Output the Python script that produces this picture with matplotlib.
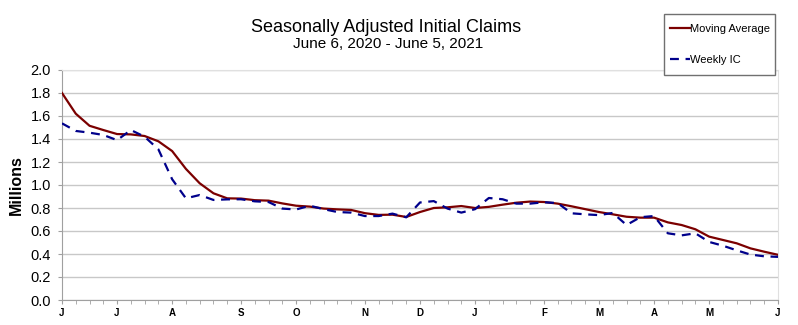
"""
Seasonally adjusted initial claims, weekly vs 4-week moving average.
"""

import numpy as np
import matplotlib
matplotlib.use("Agg")
import matplotlib.pyplot as plt
from matplotlib.patches import Rectangle

# weeks since June 6, 2020 (53 weekly observations)
weeks = np.arange(53)

moving_avg = [
    1.80, 1.62, 1.515, 1.478, 1.443, 1.44, 1.426, 1.38, 1.295, 1.14,
    1.015, 0.928, 0.884, 0.882, 0.868, 0.864, 0.84, 0.82, 0.812, 0.795,
    0.788, 0.783, 0.755, 0.74, 0.742, 0.722, 0.765, 0.80, 0.806, 0.817,
    0.80, 0.81, 0.829, 0.846, 0.856, 0.852, 0.838, 0.815, 0.79, 0.765,
    0.745, 0.724, 0.716, 0.716, 0.675, 0.652, 0.615, 0.551, 0.522, 0.493,
    0.449, 0.42, 0.393,
]

weekly_ic = [
    1.536, 1.47, 1.455, 1.435, 1.39, 1.478, 1.42, 1.31, 1.05, 0.884,
    0.913, 0.87, 0.875, 0.876, 0.858, 0.852, 0.795, 0.787, 0.82, 0.79,
    0.765, 0.76, 0.73, 0.73, 0.751, 0.719, 0.848, 0.86, 0.795, 0.76,
    0.79, 0.887, 0.876, 0.838, 0.838, 0.85, 0.843, 0.754, 0.745, 0.738,
    0.757, 0.652, 0.72, 0.73, 0.58, 0.562, 0.58, 0.505, 0.472, 0.432,
    0.395, 0.38, 0.375,
]

# month letters and the week index where each month starts
month_labels = ["J", "J", "A", "S", "O", "N", "D", "J", "F", "M", "A", "M", "J"]
month_weeks = [0, 4, 8, 13, 17, 22, 26, 30, 35, 39, 43, 47, 52]

y_ticks = [0.0, 0.2, 0.4, 0.6, 0.8, 1.0, 1.2, 1.4, 1.6, 1.8, 2.0]

W, H = 798, 325


def main():
    plt.rcParams["font.family"] = ["Liberation Sans", "DejaVu Sans"]

    fig = plt.figure(figsize=(W / 100, H / 100), dpi=100)
    ax = fig.add_axes([62 / W, 25 / H, 716 / W, 230 / H])

    ax.plot(weeks, moving_avg, color="#7b0000", linewidth=1.6,
            label="Moving Average", zorder=3)
    ax.plot(weeks, weekly_ic, color="#00008b", linewidth=1.6,
            linestyle=(0, (4, 3)), label="Weekly IC", zorder=3)

    ax.set_xlim(0, 52)
    ax.set_ylim(0, 2.0)
    ax.set_yticks(y_ticks)
    ax.set_yticklabels([f"{v:.1f}" for v in y_ticks], fontsize=10.5)
    ax.set_xticks(weeks, minor=True)
    ax.set_xticks(month_weeks)
    ax.set_xticklabels(month_labels, fontsize=7, fontweight="bold")
    ax.tick_params(axis="x", which="both", length=3, color="#a0a0a0", pad=3)
    ax.tick_params(axis="y", length=3, color="#a0a0a0", pad=5)

    ax.grid(axis="y", color="#c8c8c8", linewidth=1)
    ax.set_axisbelow(True)
    for side in ["top", "right"]:
        ax.spines[side].set_color("#e0e0e0")
    for side in ["left", "bottom"]:
        ax.spines[side].set_color("#a0a0a0")

    ax.set_ylabel("Millions", fontsize=11.5, fontweight="bold", labelpad=5)

    fig.text(0.484, 0.915, "Seasonally Adjusted Initial Claims",
             ha="center", va="center", fontsize=13)
    fig.text(0.486, 0.865, "June 6, 2020 - June 5, 2021",
             ha="center", va="center", fontsize=11)

    # legend box drawn separately so its padding can match the original
    box = Rectangle((664 / W, 1 - 75 / H), 111 / W, 61 / H,
                    transform=fig.transFigure, facecolor="white",
                    edgecolor="#707070", linewidth=1, zorder=5)
    fig.patches.append(box)
    leg = fig.legend(loc="center", bbox_to_anchor=(720 / W, 1 - 44.5 / H),
                     fontsize=8, frameon=False, handlelength=1.8,
                     handletextpad=0.05, labelspacing=1.9,
                     borderpad=0, borderaxespad=0)
    leg.set_zorder(6)

    fig.savefig("out.png", dpi=100)
    plt.close(fig)


if __name__ == "__main__":
    main()
